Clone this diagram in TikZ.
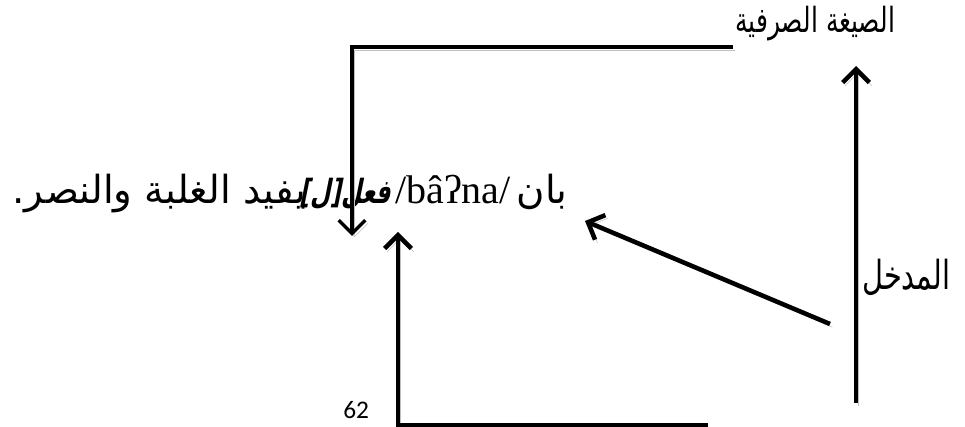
\documentclass[tikz,border=0pt]{standalone}
\usepackage{fontspec}
\setmainfont{Liberation Serif}
\newfontfamily\arabicfont[Script=Arabic]{DejaVu Sans}
\newfontfamily\schmalfont[Script=Arabic, FakeStretch=0.72]{DejaVu Sans}
\newfontfamily\musterfont[Script=Arabic, FakeSlant=0.2, FakeStretch=0.7]{DejaVu Sans Bold}
\newfontfamily\zahlfont{Carlito}
\TeXXeTstate=1
\usetikzlibrary{arrows.meta}

\begin{document}
\begin{tikzpicture}[x=0.75pt, y=-0.75pt,
		arab/.style={font=\arabicfont\fontsize{29}{34}\selectfont, inner sep=0pt},
		schmal/.style={font=\schmalfont\fontsize{#1}{34}\selectfont, inner sep=0pt},
		latein/.style={font=\fontsize{30}{36}\selectfont, inner sep=0pt},
		zahl/.style={font=\zahlfont\fontsize{19}{22}\selectfont, inner sep=0pt},
		schatten/.style={preaction={draw=gray!50, transform canvas={shift={(1.8pt,-2.4pt)}}}},
		pfeil/.style={line width=3.4pt, -{Straight Barb[length=10pt,width=20pt]}},
		duenn/.style={line width=2.6pt}]
	% Rahmen
	\useasboundingbox (0,0) rectangle (965,427);
	% Texte
	\node[schmal=26, anchor=base west] (titel) at (735,33) {\beginR الصيغة الصرفية\endR};
	\node[arab, anchor=base east] (eintrag) at (568,204) {\beginR بان\endR};
	\node[latein, anchor=base east] (umschrift) at (511,204) {/bâʔna/};
	\node[arab, font=\musterfont\fontsize{25}{30}\selectfont, anchor=base east] (muster) at (391,204) {\beginR فعل[ل]\endR};
	\node[arab, anchor=base east] (bedeutung) at (306,204) {\beginR يفيد الغلبة والنصر.\endR};
	\node[schmal=30, anchor=base west] (eingang) at (862,290) {\beginR المدخل\endR};
	\node[zahl, anchor=base west] (seite) at (343,419) {62};
	% Hilfspunkte
	\coordinate (obenrechts) at (733,47);
	\coordinate (musterpfeil) at (352,236);
	\coordinate (rechtsunten) at (856,403);
	\coordinate (titelpfeil) at (856,66);
	\coordinate (schraeg) at (830,324);
	\coordinate (eintragpfeil) at (585,221);
	\coordinate (untenrechts) at (708,425);
	\coordinate (umschriftpfeil) at (398,232);
	% Pfeile
	\draw[pfeil, duenn, schatten] (obenrechts) -| (musterpfeil);
	\draw[pfeil, schatten] (rechtsunten) -- (titelpfeil);
	\draw[pfeil, schatten] (schraeg) -- (eintragpfeil);
	\draw[pfeil, schatten] (untenrechts) -| (umschriftpfeil);
\end{tikzpicture}
\end{document}
